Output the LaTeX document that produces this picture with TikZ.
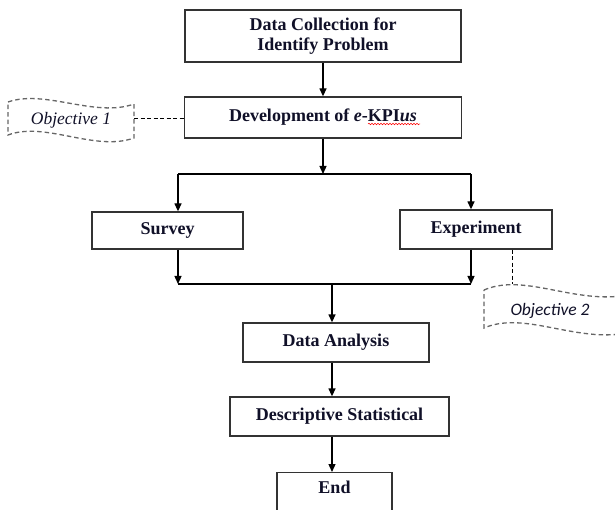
\documentclass[tikz,border=0pt]{standalone}
\usepackage{fontspec}
\setmainfont{Liberation Serif}
\newfontfamily\carl{Carlito}
\usetikzlibrary{arrows.meta,decorations.pathmorphing}
\definecolor{boxline}{HTML}{333333}
\definecolor{objline}{HTML}{666666}
\definecolor{txt}{HTML}{101028}
\tikzset{
  stepbox/.style={draw=boxline, line width=1.3pt, fill=white, inner sep=0pt,
    align=center, text=txt, font=\fontsize{18}{20}\selectfont\bfseries},
  arr/.style={line width=1.3pt, draw=black, -{Triangle[length=8pt,width=7pt]}},
  ln/.style={line width=1.3pt, draw=black},
  objwave/.style={draw=objline, line width=1.3pt, dash pattern=on 4.5pt off 3pt},
  objlink/.style={draw=black, line width=1pt, dash pattern=on 4pt off 2.5pt},
}
\begin{document}
\begin{tikzpicture}[x=1pt,y=-1pt]
\useasboundingbox (0,0) rectangle (615,510);
\clip (0,0) rectangle (615,510);
% boxes
\node[stepbox, minimum width=276pt, minimum height=52pt] (dc) at (323,36) {Data Collection for\\Identify Problem};
\node[stepbox, minimum width=277pt, minimum height=41pt] (dev) at (323,117.5) {Development of \textit{e}-KPI\textit{us}};
\node[stepbox, minimum width=151pt, minimum height=37pt] (sv) at (167.5,230.5) {Survey};
\node[stepbox, minimum width=152pt, minimum height=39pt] (ex) at (476,229.5) {Experiment};
\node[stepbox, minimum width=186pt, minimum height=39pt] (da) at (336,342.5) {Data Analysis};
\node[stepbox, minimum width=219pt, minimum height=39pt] (ds) at (339.5,416.5) {Descriptive Statistical};
\node[stepbox, anchor=north, minimum width=115pt, minimum height=44pt, text depth=14pt] (en) at (334.5,472) {End};
% spell-check squiggle
\draw[red, line width=0.5pt, decorate, decoration={snake, amplitude=0.8pt, segment length=3pt}] (368,124) -- (420,124);
% junctions
\coordinate (b1) at (323,174);
\coordinate (bl) at (178,174);
\coordinate (br) at (471,174);
\coordinate (m1) at (178,284);
\coordinate (m2) at (471,284);
\coordinate (mc) at (332,284);
% connectors
\draw[arr] (dc) -- (dev);
\draw[arr] (dev.south) -- (b1);
\draw[ln] (bl) -- (br);
\draw[arr] (bl) -- (bl |- sv.north);
\draw[arr] (br) -- (br |- ex.north);
\draw[arr] (m1 |- sv.south) -- (m1);
\draw[arr] (m2 |- ex.south) -- (m2);
\draw[ln] (m1) -- (m2);
\draw[arr] (mc) -- (mc |- da.north);
\draw[arr] (mc |- da.south) -- (mc |- ds.north);
\draw[arr] (mc |- ds.south) -- (mc |- en.north);
% objective 1
\draw[objwave] (8,102) .. controls (45,89) and (95,118) .. (134,104) -- (134,138)
   .. controls (95,152) and (45,121) .. (8,135) -- cycle;
\node[text=txt, font=\fontsize{17.5}{20}\selectfont\itshape] (o1) at (71,120) {Objective 1};
\coordinate (o1r) at (134,119);
\draw[objlink] (o1r) -- (o1r -| dev.west);
% objective 2
\draw[objwave] (484,290) .. controls (530,270) and (590,315) .. (650,288) -- (650,326)
   .. controls (590,353) and (530,308) .. (484,328) -- cycle;
\node[text=txt, font=\carl\fontsize{17.5}{20}\selectfont\itshape] (o2) at (550,311) {Objective 2};
\coordinate (o2t) at (512,284);
\draw[objlink] (o2t |- ex.south) -- (o2t);
\end{tikzpicture}
\end{document}
